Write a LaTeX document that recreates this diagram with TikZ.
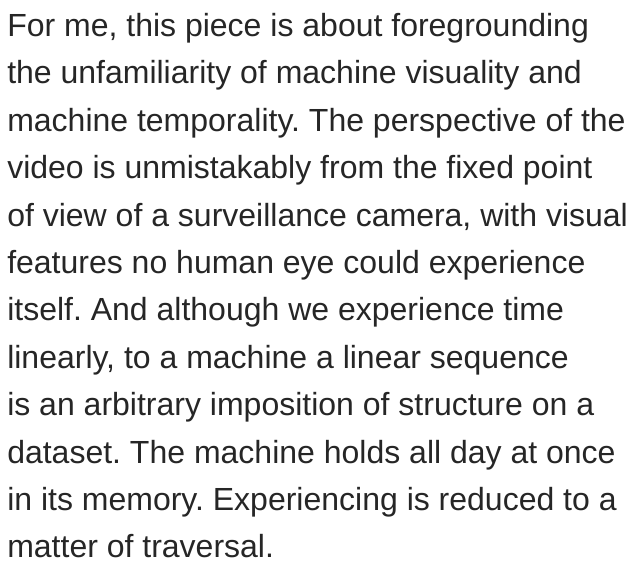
\documentclass[tikz,border=0pt]{standalone}
\usepackage{fontspec}
\setmainfont{Liberation Sans}
\usepackage{xcolor}
\definecolor{inkgray}{HTML}{262626}
\frenchspacing

\begin{document}
\begin{tikzpicture}[x=0.75pt,y=-0.75pt,
    every node/.style={font=\fontsize{24}{28}\selectfont, text=inkgray, inner sep=0pt, anchor=base west}]
        \useasboundingbox[fill=white] (0,0) rectangle (632,566);

        % paragraph, one node per printed line
        \node (l1)  at (7,36.5)  {For me, this piece is about foregrounding};
        \node (l2)  at (7,83.9)  {the unfamiliarity of machine visuality and};
        \node (l3)  at (7,131.3) {machine temporality. The perspective of the};
        \node (l4)  at (7,178.7) {video is unmistakably from the fixed point};
        \node (l5)  at (7,226.1) {of view of a surveillance camera, with visual};
        \node (l6)  at (7,273.5) {features no human eye could experience};
        \node (l7)  at (7,320.9) {itself. And although we experience time};
        \node (l8)  at (7,368.3) {linearly, to a machine a linear sequence};
        \node (l9)  at (7,415.7) {is an arbitrary imposition of structure on a};
        \node (l10) at (7,463.1) {dataset. The machine holds all day at once};
        \node (l11) at (7,510.5) {in its memory. Experiencing is reduced to a};
        \node (l12) at (7,557.9) {matter of traversal.};
      \end{tikzpicture}
\end{document}
